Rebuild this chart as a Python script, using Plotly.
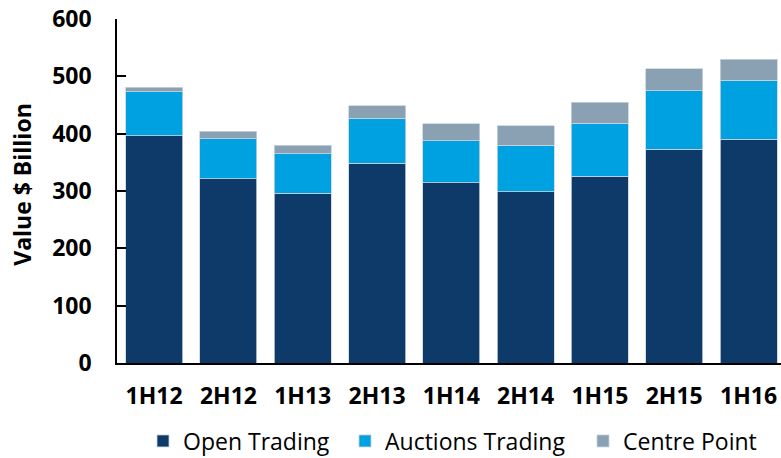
import plotly.graph_objects as go

categories = ["1H12", "2H12", "1H13", "2H13", "1H14", "2H14", "1H15", "2H15", "1H16"]
open_trading = [396.5, 321.5, 296.5, 348, 314, 299, 326, 372.5, 390]
auctions_trading = [77, 70, 68.5, 79, 74, 81, 92, 102, 103.5]
centre_point = [7.5, 13, 15, 22, 29, 34, 36.5, 38.5, 36]
y_ticks = [0, 100, 200, 300, 400, 500, 600]

FONT = "Open Sans"
W, H = 781, 458
line = dict(color="#C9D3DD", width=0.8)

fig = go.Figure()
fig.add_bar(x=categories, y=open_trading, name="Open Trading", legend="legend",
            marker=dict(color="#0E3A6A", line=line))
fig.add_bar(x=categories, y=auctions_trading, name="Auctions Trading", legend="legend2",
            marker=dict(color="#00A1E0", line=line))
fig.add_bar(x=categories, y=centre_point, name="Centre Point", legend="legend3",
            marker=dict(color="#8AA1B4", line=line))

def leg(marker_center_px):
    return dict(orientation="h", x=(marker_center_px - 22) / W, xref="container",
                xanchor="left", y=1 - 441 / H, yref="container", yanchor="middle",
                font=dict(family=FONT, size=23, color="black"),
                bgcolor="rgba(0,0,0,0)", itemwidth=30)

fig.update_layout(
    width=W, height=H,
    barmode="stack", bargap=0.233,
    margin=dict(l=117, r=0, t=19, b=95),
    paper_bgcolor="white", plot_bgcolor="white",
    font=dict(family=FONT, color="black"),
    showlegend=True,
    legend=leg(165), legend2=leg(367), legend3=leg(605),
    xaxis=dict(range=[-0.5, 8.437], showline=True, linecolor="black", linewidth=1.5,
               ticks="", showgrid=False, zeroline=False,
               tickfont=dict(family=FONT, size=23, color="black", weight="bold"),
               ticklabelstandoff=12),
    yaxis=dict(range=[0, 600], tickvals=y_ticks, showline=True, linecolor="black",
               linewidth=1.5, ticks="inside", ticklen=9, tickcolor="black", tickwidth=1.5,
               showgrid=False, zeroline=False,
               tickfont=dict(family=FONT, size=23, color="black", weight="bold"),
               ticklabelstandoff=19),
    annotations=[dict(text="Value $ Billion", xref="paper", yref="paper",
                      x=(22 - 117) / 664, y=0.518, xanchor="center", yanchor="middle",
                      textangle=-90, showarrow=False,
                      font=dict(family=FONT, size=23, color="black", weight="bold"))],
)

fig.write_html("out.html", config={"displayModeBar": False},
               post_script="document.body.style.margin='0';")
